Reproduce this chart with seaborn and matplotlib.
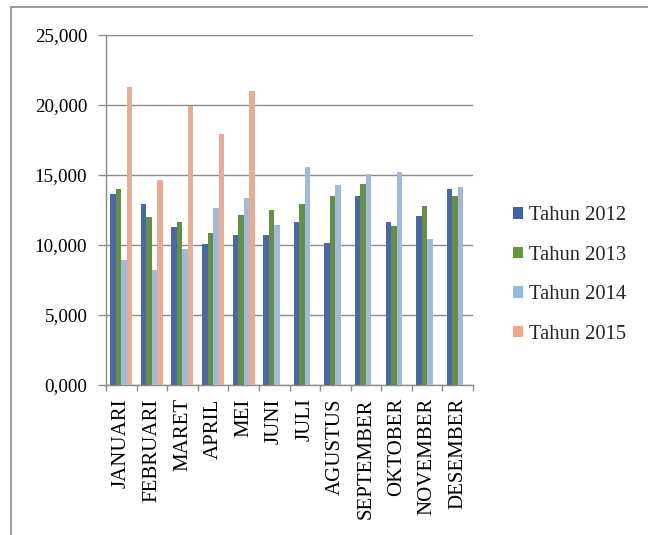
import matplotlib
matplotlib.use("Agg")
import matplotlib.pyplot as plt
from matplotlib.lines import Line2D
import seaborn as sns
import pandas as pd
import numpy as np

# Monthly figures per year
months = ["JANUARI", "FEBRUARI", "MARET", "APRIL", "MEI", "JUNI", "JULI",
          "AGUSTUS", "SEPTEMBER", "OKTOBER", "NOVEMBER", "DESEMBER"]
years = ["Tahun 2012", "Tahun 2013", "Tahun 2014", "Tahun 2015"]

tahun_2012 = [13640, 12930, 11290, 10100, 10690, 10690, 11640,
              10120, 13500, 11640, 12100, 13980]
tahun_2013 = [14000, 11980, 11620, 10880, 12140, 12500, 12930,
              13500, 14330, 11360, 12790, 13500]
tahun_2014 = [8950, 8210, 9740, 12620, 13360, 11400, 15550,
              14310, 15070, 15210, 10430, 14170]
tahun_2015 = [21260, 14670, 19930, 17930, 21000, np.nan, np.nan,
              np.nan, np.nan, np.nan, np.nan, np.nan]

y_ticks = [0, 5000, 10000, 15000, 20000, 25000]
y_tick_labels = ["0,000", "5,000", "10,000", "15,000", "20,000", "25,000"]

colors = ["#3D65AE", "#62993E", "#98B9E2", "#F3A688"]

df = pd.DataFrame({
    "bulan": months * 4,
    "tahun": sum([[y] * len(months) for y in years], []),
    "nilai": tahun_2012 + tahun_2013 + tahun_2014 + tahun_2015,
})

sns.set_theme(style="white")
plt.rcParams["font.family"] = ["Liberation Serif", "DejaVu Serif"]

fig = plt.figure(figsize=(6.48, 5.35), dpi=100)
ax = fig.add_axes([106 / 648, 1 - 385 / 535, 367 / 648, 350 / 535])

sns.barplot(data=df, x="bulan", y="nilai", hue="tahun", order=months,
            hue_order=years, palette=colors, width=0.72, errorbar=None,
            linewidth=0, ax=ax, zorder=3)

grid_color = "#8C8C8C"
ax.set_ylim(0, 25000)
ax.set_xlim(-0.5, len(months) - 0.5)
ax.set_yticks(y_ticks)
ax.set_yticklabels(y_tick_labels, fontsize=13.8, color="black")
ax.yaxis.grid(True, color=grid_color, linewidth=1.0, zorder=0)
ax.set_axisbelow(True)

ax.set_xticks(range(len(months)))
ax.set_xticklabels(months, rotation=90, fontsize=15, color="black",
                   va="top", ha="center")
ax.set_xticks(np.arange(-0.5, len(months), 1.0), minor=True)
ax.tick_params(axis="x", which="major", length=0, pad=9.5)
ax.tick_params(axis="x", which="minor", length=4.5, width=1.0,
               color=grid_color, direction="out", bottom=True)
ax.tick_params(axis="y", which="major", length=5.5, width=1.0,
               color=grid_color, direction="out", left=True, pad=8)

ax.set_xlabel("")
ax.set_ylabel("")
for side in ["top", "right"]:
    ax.spines[side].set_visible(False)
for side in ["left", "bottom"]:
    ax.spines[side].set_color(grid_color)
    ax.spines[side].set_linewidth(1.0)

ax.legend_.remove()
handles = [plt.Rectangle((0, 0), 1, 1, color=c, linewidth=0) for c in colors]
fig.legend(handles, years, loc="center left",
           bbox_to_anchor=(513 / 648, 1 - 275 / 535),
           frameon=False, fontsize=14.8, borderpad=0, borderaxespad=0,
           handlelength=0.5, handleheight=0.5, handletextpad=0.3,
           labelspacing=1.0)

# Outer frame along the top and left edges
fig.add_artist(Line2D([10.5 / 648, 1.0], [1 - 6.5 / 535, 1 - 6.5 / 535],
                      color="#8A8A8A", linewidth=1.2,
                      transform=fig.transFigure))
fig.add_artist(Line2D([10.5 / 648, 10.5 / 648], [0.0, 1 - 6.5 / 535],
                      color="#8A8A8A", linewidth=1.2,
                      transform=fig.transFigure))

fig.savefig("out.png", dpi=100)
